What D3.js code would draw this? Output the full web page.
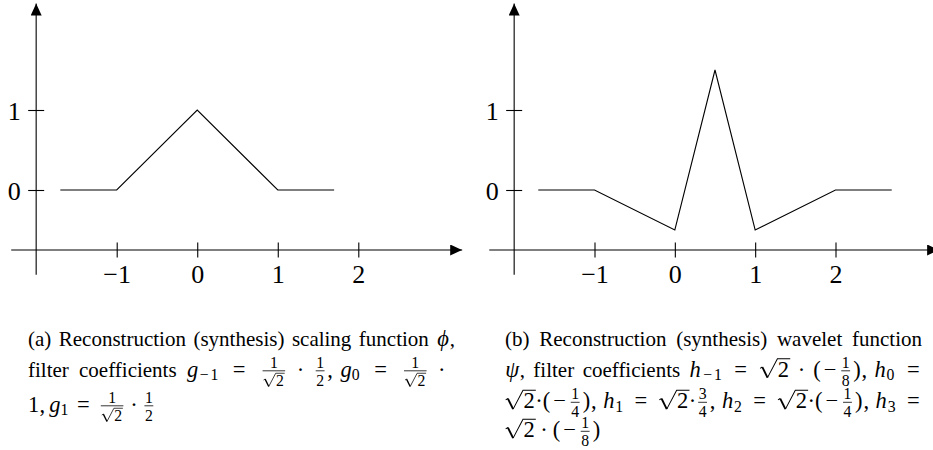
<!DOCTYPE html>
<html>
<head>
<meta charset="utf-8">
<script src="https://cdn.jsdelivr.net/npm/d3@7"></script>
<style>
  html, body { margin: 0; padding: 0; background: #fff; }
  svg { display: block; }
  svg text { font-family: "Liberation Serif", "DejaVu Serif", serif; fill: #000; }
</style>
</head>
<body>
<svg id="chart" width="933" height="450" font-family="Liberation Serif, DejaVu Serif, serif"></svg>
<script>
// Scaling function phi (hat) and wavelet function psi, sampled at their knots
const phiX = [-1.7, -1, 0, 1, 1.7];
const phiY = [0, 0, 1, 0, 0];
const psiX = [-1.7, -1, 0, 0.5, 1, 2, 2.7];
const psiY = [0, 0, -0.5, 1.5, -0.5, 0, 0];

const xTicks = [-1, 0, 1, 2];
const yTicks = [0, 1];
const xAxisSpan = [-2.31, 3.29];   // horizontal axis, up to the arrow tip
const yAxisSpan = [-1.06, 2.33];   // vertical axis, up to the arrow tip
const yAxisAtX = -2;               // vertical axis crosses here
const xAxisAtY = -0.75;            // horizontal axis crosses here

const FONT = '"Liberation Serif", "DejaVu Serif", serif';
const svg = d3.select("#chart");
const INK = "#000";
const LW = 1.1;

// arrow head
svg.append("defs").append("marker")
  .attr("id", "arrow")
  .attr("markerUnits", "userSpaceOnUse")
  .attr("markerWidth", 12).attr("markerHeight", 11)
  .attr("refX", 12).attr("refY", 5.5)
  .attr("orient", "auto")
  .append("path").attr("d", "M0,0 L12,5.5 L0,11 Z").attr("fill", INK);

function drawPanel(xRange, xs, ys) {
  const x = d3.scaleLinear().domain([-1, 2]).range(xRange);
  const y = d3.scaleLinear().domain([0, 1]).range([190, 110]);
  const g = svg.append("g");

  // axis lines with arrows
  g.append("line")
    .attr("x1", x(xAxisSpan[0])).attr("x2", x(xAxisSpan[1]))
    .attr("y1", y(xAxisAtY)).attr("y2", y(xAxisAtY))
    .attr("stroke", INK).attr("stroke-width", LW).attr("marker-end", "url(#arrow)");
  g.append("line")
    .attr("x1", x(yAxisAtX)).attr("x2", x(yAxisAtX))
    .attr("y1", y(yAxisSpan[0])).attr("y2", y(yAxisSpan[1]))
    .attr("stroke", INK).attr("stroke-width", LW).attr("marker-end", "url(#arrow)");

  // horizontal ticks and labels
  const ax = g.append("g")
    .attr("transform", `translate(0,${y(xAxisAtY)})`)
    .call(d3.axisBottom(x).tickValues(xTicks).tickSize(7.5).tickFormat(d3.format("d")));
  ax.attr("font-family", null).attr("font-size", null);
  ax.select(".domain").remove();
  ax.selectAll(".tick line").attr("y1", -7.5).attr("stroke", INK).attr("stroke-width", LW);
  ax.selectAll(".tick text").attr("y", 33).attr("dy", null)
    .style("font-family", FONT).attr("font-size", 26).attr("fill", INK);

  // vertical ticks and labels
  const ay = g.append("g")
    .attr("transform", `translate(${x(yAxisAtX)},0)`)
    .call(d3.axisLeft(y).tickValues(yTicks).tickSize(8).tickFormat(d3.format("d")));
  ay.attr("font-family", null).attr("font-size", null);
  ay.select(".domain").remove();
  ay.selectAll(".tick line").attr("x1", 8).attr("stroke", INK).attr("stroke-width", LW);
  ay.selectAll(".tick text").attr("x", -15.5).attr("y", 9.5).attr("dy", null)
    .style("font-family", FONT).attr("font-size", 26).attr("fill", INK);

  // function graph
  const line = d3.line().x(d => x(d[0])).y(d => y(d[1]));
  g.append("path")
    .datum(d3.zip(xs, ys))
    .attr("d", line)
    .attr("fill", "none").attr("stroke", INK).attr("stroke-width", LW)
    .attr("stroke-linejoin", "miter");
}

drawPanel([116.7, 358.3], phiX, phiY);
drawPanel([594.5, 835.5], psiX, psiY);

// ---------- captions: a tiny box-and-glue typesetter ----------
const F_TEXT = 21, F_MATH = 22.5, F_SCRIPT = 15.75;
const SP = 0.25 * F_TEXT, TK = 0.278 * F_MATH, MD = 0.222 * F_MATH, TN = 0.167 * F_MATH;

const meas = svg.append("text").attr("visibility", "hidden").style("font-family", FONT);
function tw(s, size, italic) {
  meas.attr("font-size", size).attr("font-style", italic ? "italic" : "normal").text(s);
  return meas.node().getComputedTextLength();
}
function label(g, s, x, y, size, italic) {
  return g.append("text").attr("x", x).attr("y", y)
    .style("font-family", FONT).attr("font-size", size)
    .attr("font-style", italic ? "italic" : "normal").text(s);
}
function txt(s, size, italic, dy) {
  return {
    w: tw(s, size, italic),
    draw(g, x, y) { label(g, s, x, y + (dy || 0), size, italic); }
  };
}
// glyph centred in a fixed advance (em units of its size)
function box(s, adv, size, italic, dy) {
  size = size || F_MATH;
  const gw = tw(s, size, italic), w = adv * size;
  return { w, draw(g, x, y) { label(g, s, x + (w - gw) / 2, y + (dy || 0), size, italic); } };
}
const T = s => txt(s, F_TEXT);
const MR = s => txt(s, F_MATH);
const MI = (s, adv) => box(s, adv, F_MATH, true);
const SUB = s => s.startsWith("\u2212")
  ? { w: 0.778 * F_SCRIPT + tw(s.slice(1), F_SCRIPT),
      draw(g, x, y) {
        box("\u2212", 0.778, F_SCRIPT, false, 3.5).draw(g, x, y);
        label(g, s.slice(1), x + 0.778 * F_SCRIPT, y + 3.5, F_SCRIPT);
      } }
  : txt(s, F_SCRIPT, false, 3.5);
const EQ = () => box("=", 0.778);
const MINUS = () => box("\u2212", 0.778);
const DOT = () => box("\u00B7", 0.278);
const LP = () => box("(", 0.389);
const RP = () => box(")", 0.389);
const COMMA = () => box(",", 0.278);
const G = w => ({ w, glue: true });

function SQ(d, size) {
  const dw = tw(d, size), surd = 0.82 * size, pad = 0.05 * size;
  return {
    w: surd + dw + pad,
    draw(g, x, y) {
      const top = y - 0.79 * size;
      const A = [x + 0.03 * size, y - 0.36 * size];
      const B = [x + 0.13 * size, y - 0.42 * size];
      const C = [x + 0.36 * size, y + 0.05 * size];
      const D = [x + surd - 0.02 * size, top];
      g.append("path")
        .attr("d", `M${A}L${B}M${C}L${D}L${x + surd + dw + pad},${top}`)
        .attr("fill", "none").attr("stroke", INK).attr("stroke-width", Math.max(0.75, 0.045 * size));
      g.append("path")
        .attr("d", `M${B}L${C}`)
        .attr("fill", "none").attr("stroke", INK).attr("stroke-width", 0.085 * size);
      label(g, d, x + surd, y, size);
    }
  };
}
function FR(n, d) {
  const part = s => s.startsWith("\u221A") ? SQ(s.slice(1), F_SCRIPT) : txt(s, F_SCRIPT);
  const N = part(n), D = part(d);
  const inner = Math.max(N.w, D.w) + 1, pad = 2.4;
  return {
    w: inner + 2 * pad,
    draw(g, x, y) {
      N.draw(g, x + pad + (inner - N.w) / 2, y - 8.8);
      D.draw(g, x + pad + (inner - D.w) / 2, y + 9.2);
      g.append("line").attr("x1", x + pad).attr("x2", x + pad + inner)
        .attr("y1", y - 5.7).attr("y2", y - 5.7).attr("stroke", INK).attr("stroke-width", 0.8);
    }
  };
}
function words(str) {
  const out = [];
  str.split(" ").forEach((wd, i) => { if (i) out.push(G(SP)); out.push(T(wd)); });
  return out;
}
function setLine(g, items, x0, y, width) {
  const nat = d3.sum(items, d => d.w);
  const glue = d3.sum(items.filter(d => d.glue), d => d.w);
  const k = width != null && glue > 0 ? (width - nat) / glue : 0;
  let x = x0;
  items.forEach(it => {
    if (it.glue) x += it.w * (1 + k);
    else { it.draw(g, x, y); x += it.w; }
  });
}

const R2 = "\u221A2";
const gA = () => MI("g", 0.5), hA = () => MI("h", 0.576);
const capA = svg.append("g");
setLine(capA, [...words("(a) Reconstruction (synthesis) scaling function"), G(SP), MI("\u03D5", 0.596), T(",")],
  28, 345.5, 427);
setLine(capA, [...words("filter coefficients"), G(SP), gA(), SUB("\u22121"), G(TK), EQ(), G(TK),
  FR("1", R2), G(MD), DOT(), G(MD), FR("1", "2"), COMMA(), G(TN), gA(), SUB("0"), G(TK), EQ(), G(TK),
  FR("1", R2), G(MD), DOT()], 28, 376.5, 417);
setLine(capA, [MR("1"), COMMA(), G(TN), gA(), SUB("1"), G(TK), EQ(), G(TK), FR("1", R2), G(MD), DOT(),
  G(MD), FR("1", "2")], 28, 411.5, null);

const capB = svg.append("g");
setLine(capB, words("(b) Reconstruction (synthesis) wavelet function"), 505, 345.5, 417);
setLine(capB, [MI("\u03C8", 0.651), T(","), G(SP), ...words("filter coefficients"), G(SP), hA(), SUB("\u22121"),
  G(TK), EQ(), G(TK), SQ("2", F_MATH), G(MD), DOT(), G(MD), LP(), MINUS(), FR("1", "8"), RP(), COMMA(),
  G(TN), hA(), SUB("0"), G(TK), EQ()], 505, 376.5, 417);
setLine(capB, [SQ("2", F_MATH), DOT(), LP(), MINUS(), FR("1", "4"), RP(), COMMA(), G(TN), hA(), SUB("1"),
  G(TK), EQ(), G(TK), SQ("2", F_MATH), DOT(), FR("3", "4"), COMMA(), G(TN), hA(), SUB("2"), G(TK), EQ(),
  G(TK), SQ("2", F_MATH), DOT(), LP(), MINUS(), FR("1", "4"), RP(), COMMA(), G(TN), hA(), SUB("3"),
  G(TK), EQ()], 505, 408, 417);
setLine(capB, [SQ("2", F_MATH), G(MD), DOT(), G(MD), LP(), MINUS(), FR("1", "8"), RP()], 505, 437, null);

meas.remove();
</script>
</body>
</html>
